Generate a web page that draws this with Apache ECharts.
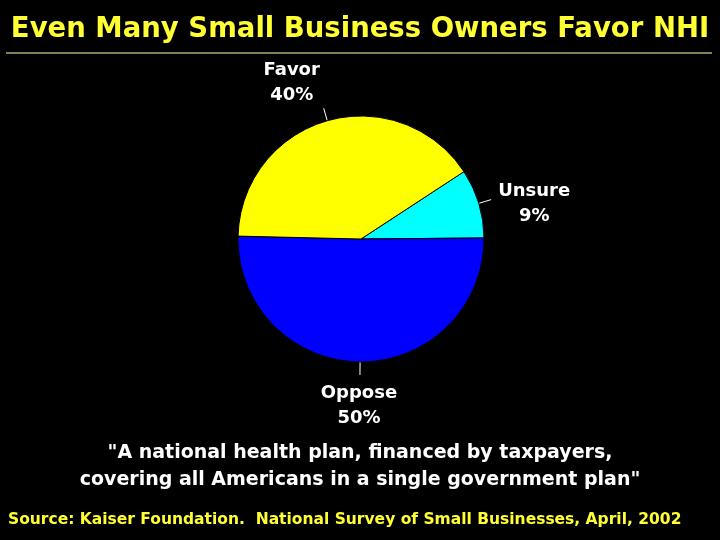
<!DOCTYPE html>
<html>
<head>
<meta charset="utf-8">
<script src="https://cdn.jsdelivr.net/npm/echarts@6/dist/echarts.min.js"></script>
<style>
  html, body { margin: 0; padding: 0; background: #000; }
  #chart { width: 720px; height: 540px; }
</style>
</head>
<body>
<div id="chart"></div>
<script>
// slice order runs clockwise from the top edge of "Unsure"
const categories = ['Unsure', 'Oppose', 'Favor']
const values = [9, 50, 40]
const sliceColors = ['#00ffff', '#0000ff', '#ffff00']

const titleText = 'Even Many Small Business Owners Favor NHI'
const quoteText = '"A national health plan, financed by taxpayers,\ncovering all Americans in a single government plan"'
const sourceText = 'Source: Kaiser Foundation.  National Survey of Small Businesses, April, 2002'

const chart = echarts.init(document.getElementById('chart'))

// where each label sits relative to the end of its leader line
const labelOffset = {
  Unsure: { dx: 43, dy: 4, align: 'center', verticalAlign: 'middle' },
  Oppose: { dx: -1, dy: 6, align: 'center', verticalAlign: 'top' },
  Favor: { dx: -32, dy: 0, align: 'center', verticalAlign: 'bottom' }
}

const option = {
  backgroundColor: '#000',
  title: {
    text: titleText,
    left: 'center',
    top: 11,
    textStyle: {
      color: '#ffff33',
      fontFamily: 'DejaVu Sans',
      fontWeight: 'bold',
      fontSize: 27.5
    }
  },
  graphic: [
    {
      type: 'line',
      shape: { x1: 6, y1: 53, x2: 712, y2: 53 },
      style: { stroke: '#ffffaa', lineWidth: 1 }
    },
    {
      type: 'text',
      left: 'center',
      top: 440,
      style: {
        text: quoteText,
        fill: '#fff',
        font: 'bold 19px "DejaVu Sans"',
        textAlign: 'center',
        lineHeight: 27
      }
    },
    {
      type: 'text',
      left: 8,
      top: 512,
      style: {
        text: sourceText,
        fill: '#ffff33',
        font: 'bold 15.5px "DejaVu Sans"'
      }
    }
  ],
  series: [
    {
      type: 'pie',
      center: [361, 239],
      radius: 123,
      startAngle: 33.2,
      clockwise: true,
      animation: false,
      avoidLabelOverlap: false,
      itemStyle: { borderColor: '#000', borderWidth: 1 },
      label: {
        show: true,
        position: 'outside',
        color: '#fff',
        fontFamily: 'DejaVu Sans',
        fontWeight: 'bold',
        fontSize: 18,
        lineHeight: 25,
        formatter: function(p) {
          return p.name + '\n' + p.value + '%'
        }
      },
      labelLine: {
        show: true,
        length: 13,
        length2: 0,
        smooth: false,
        lineStyle: { color: '#fff', width: 1 }
      },
      labelLayout: function(params) {
        const pts = params.labelLinePoints
        const end = pts[pts.length - 1]
        const o = labelOffset[categories[params.dataIndex]]
        return {
          x: end[0] + o.dx,
          y: end[1] + o.dy,
          align: o.align,
          verticalAlign: o.verticalAlign,
          labelLinePoints: pts
        }
      },
      data: categories.map(function(name, i) {
        return { name: name, value: values[i], itemStyle: { color: sliceColors[i] } }
      })
    }
  ]
}

chart.setOption(option)
</script>
</body>
</html>
